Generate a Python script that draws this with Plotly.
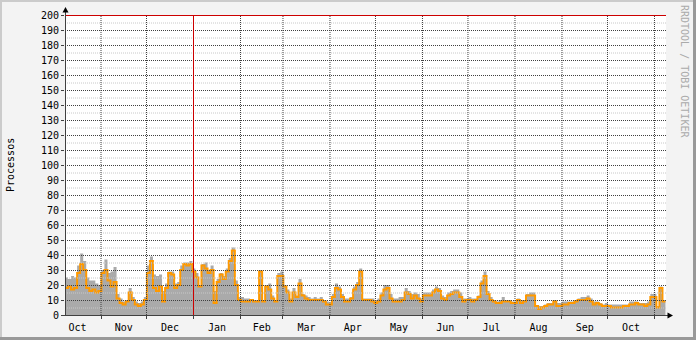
import plotly.graph_objects as go
import pandas as pd

# ---- data (2-day consolidation steps) ----
START = "2009-10-08 06:14"
RANGE_END = "2010-11-08 14:14"
STEP = "2D"

avg_processes = [
    18, 19, 17, 18, 28, 34, 30, 18, 16, 17,
    15, 16, 28, 30, 23, 19, 22, 11, 8, 7,
    9, 15, 10, 7, 6, 7, 10, 28, 36, 18,
    16, 19, 9, 18, 28, 27, 18, 20, 30, 34,
    33, 34, 29, 25, 19, 33, 31, 28, 30, 8,
    22, 27, 24, 29, 36, 43, 20, 10, 9, 9,
    9, 10, 9, 9, 29, 9, 19, 17, 11, 9,
    26, 26, 19, 15, 9, 15, 12, 21, 13, 11,
    10, 10, 10, 10, 10, 9, 7, 7, 12, 18,
    17, 12, 9, 9, 11, 17, 20, 29, 10, 10,
    10, 9, 8, 9, 13, 17, 18, 11, 9, 9,
    9, 10, 15, 14, 11, 13, 11, 9, 13, 13,
    13, 15, 17, 16, 11, 10, 13, 14, 15, 15,
    12, 9, 10, 10, 9, 10, 12, 21, 26, 14,
    10, 9, 8, 8, 9, 9, 9, 8, 8, 10,
    8, 9, 13, 13, 13, 6, 4, 5, 6, 7,
    7, 9, 6, 6, 7, 7, 8, 8, 9, 10,
    10, 10, 11, 9, 7, 8, 7, 6, 6, 6,
    5, 5, 5, 5, 6, 6, 7, 7, 8, 7,
    7, 6, 7, 12, 12, 5, 18, 9,
]

max_processes = [
    25, 24, 26, 25, 33, 41, 36, 25, 23, 23,
    21, 20, 30, 37, 28, 29, 32, 14, 11, 9,
    10, 18, 12, 9, 8, 9, 12, 33, 39, 27,
    26, 27, 16, 21, 29, 29, 21, 22, 33, 35,
    35, 36, 31, 28, 20, 34, 35, 30, 33, 16,
    24, 28, 26, 31, 38, 45, 23, 12, 12, 11,
    11, 10, 10, 10, 30, 10, 20, 21, 13, 10,
    28, 29, 20, 17, 11, 18, 13, 24, 14, 13,
    12, 11, 12, 11, 12, 10, 9, 8, 14, 21,
    19, 14, 11, 11, 12, 19, 22, 31, 11, 11,
    11, 11, 10, 11, 15, 20, 20, 14, 11, 11,
    12, 12, 18, 16, 14, 15, 14, 11, 15, 15,
    15, 17, 19, 18, 13, 12, 15, 16, 17, 17,
    15, 11, 11, 12, 11, 11, 13, 23, 29, 16,
    12, 10, 9, 10, 12, 10, 10, 9, 9, 11,
    10, 10, 14, 15, 15, 6, 6, 6, 7, 8,
    8, 10, 8, 8, 9, 9, 9, 9, 10, 11,
    12, 12, 13, 11, 9, 9, 8, 7, 8, 7,
    7, 7, 7, 7, 7, 7, 9, 9, 9, 8,
    8, 8, 9, 14, 14, 6, 19, 10,
]

y_ticks = list(range(0, 201, 10))
y_minor = list(range(5, 200, 10))
month_starts = pd.date_range("2009-11-01", "2010-11-01", freq="MS")
year_start = pd.Timestamp("2010-01-01")

y_title = "Processos"
watermark = "RRDTOOL / TOBI OETIKER"

# ---- layout constants ----
W, H = 696, 340
L, R, T, B = 65, 30, 15, 25
PW, PH = W - L - R, H - T - B
FONT = "DejaVu Sans Mono"
Y_MAX = 200


def px(x):
    return (x - L) / PW


def py(y):
    return (T + PH - y) / PH


def grid_y(v):
    # pixel-aligned paper coordinate for a horizontal rule at value v
    return py(T + PH - v * PH / Y_MAX + 0.5)


steps = pd.date_range(START, periods=len(avg_processes) + 1, freq=STEP)
avg_y = avg_processes + [avg_processes[-1]]
max_y = max_processes + [max_processes[-1]]

fig = go.Figure()
fig.add_trace(go.Scatter(
    x=steps, y=max_y, mode="lines", line_shape="hv",
    line=dict(width=0, color="#AAAAAA"), fill="tozeroy",
    fillcolor="#AAAAAA", hoverinfo="skip", showlegend=False,
))
fig.add_trace(go.Scatter(
    x=steps, y=avg_y, mode="lines", line_shape="hv",
    line=dict(width=2, color="#FF9900"), hoverinfo="skip", showlegend=False,
))

DOT = "1px,1px"
shapes = []
for v in y_minor:
    shapes.append(dict(type="line", xref="paper", yref="paper", x0=0, x1=1,
                       y0=grid_y(v), y1=grid_y(v),
                       line=dict(color="#C8C8C8", width=1, dash=DOT), layer="above"))
for v in y_ticks[1:-1]:
    shapes.append(dict(type="line", xref="paper", yref="paper", x0=0, x1=1,
                       y0=grid_y(v), y1=grid_y(v),
                       line=dict(color="#404040", width=1, dash=DOT), layer="above"))
for m in month_starts:
    if m == year_start:
        continue
    shapes.append(dict(type="line", xref="x", yref="paper", x0=m, x1=m, y0=0, y1=1,
                       line=dict(color="#404040", width=1, dash=DOT), layer="above"))
# red rules
shapes.append(dict(type="line", xref="paper", yref="paper", x0=0, x1=1,
                   y0=grid_y(Y_MAX), y1=grid_y(Y_MAX),
                   line=dict(color="#CC0000", width=1), layer="above"))
shapes.append(dict(type="line", xref="x", yref="paper", x0=year_start, x1=year_start, y0=0, y1=1,
                   line=dict(color="#CC0000", width=1), layer="above"))
# axes lines
shapes.append(dict(type="line", xref="paper", yref="paper", x0=px(65.5), x1=px(65.5),
                   y0=py(315.5), y1=py(12), line=dict(color="#404040", width=1), layer="above"))
shapes.append(dict(type="line", xref="paper", yref="paper", x0=px(64), x1=px(668),
                   y0=py(315.5), y1=py(315.5), line=dict(color="#404040", width=1), layer="above"))
# arrows
shapes.append(dict(type="path", xref="paper", yref="paper",
                   path=f"M {px(62.5)},{py(12.5)} L {px(68.5)},{py(12.5)} L {px(65.5)},{py(7)} Z",
                   fillcolor="#000000", line=dict(width=0), layer="above"))
shapes.append(dict(type="path", xref="paper", yref="paper",
                   path=f"M {px(667.5)},{py(312.5)} L {px(667.5)},{py(318.5)} L {px(673)},{py(315.5)} Z",
                   fillcolor="#000000", line=dict(width=0), layer="above"))
# frame shading
shapes.append(dict(type="rect", xref="paper", yref="paper", x0=px(0), x1=px(W), y0=py(0), y1=py(2),
                   fillcolor="#CBCBCB", line=dict(width=0), layer="below"))
shapes.append(dict(type="rect", xref="paper", yref="paper", x0=px(0), x1=px(2), y0=py(0), y1=py(H),
                   fillcolor="#CBCBCB", line=dict(width=0), layer="below"))
shapes.append(dict(type="rect", xref="paper", yref="paper", x0=px(0), x1=px(W), y0=py(H - 3), y1=py(H),
                   fillcolor="#999999", line=dict(width=0), layer="below"))
shapes.append(dict(type="rect", xref="paper", yref="paper", x0=px(W - 3), x1=px(W), y0=py(0), y1=py(H),
                   fillcolor="#999999", line=dict(width=0), layer="below"))

fig.update_layout(
    width=W, height=H,
    margin=dict(l=L, r=R, t=T, b=B, pad=0, autoexpand=False),
    paper_bgcolor="#F3F3F3", plot_bgcolor="#FFFFFF",
    showlegend=False,
    shapes=shapes,
    font=dict(family=FONT, size=10, color="#000000"),
    xaxis=dict(
        type="date", range=[START, RANGE_END], automargin=False,
        tick0="2009-10-01", dtick="M1", ticklabelmode="period", tickformat="%b",
        showgrid=False, zeroline=False, showline=False,
        ticks="outside", ticklen=3, tickcolor="#404040",
        tickfont=dict(family=FONT, size=10, color="#000000"),
        fixedrange=True,
    ),
    yaxis=dict(
        range=[0, Y_MAX], tickvals=y_ticks, automargin=False,
        showgrid=False, zeroline=False, showline=False,
        ticks="outside", ticklen=3, tickcolor="#404040",
        tickfont=dict(family=FONT, size=10, color="#000000"),
        fixedrange=True,
    ),
    annotations=[
        dict(text=y_title, xref="paper", yref="paper", x=px(10), y=0.5,
             textangle=-90, showarrow=False, xanchor="center", yanchor="middle",
             font=dict(family=FONT, size=10, color="#000000")),
        dict(text=watermark, xref="paper", yref="paper", x=px(685), y=py(71),
             textangle=90, showarrow=False, xanchor="center", yanchor="middle",
             font=dict(family=FONT, size=10, color="#AAAAAA")),
    ],
)

fig.write_html("out.html", config={"displayModeBar": False})
